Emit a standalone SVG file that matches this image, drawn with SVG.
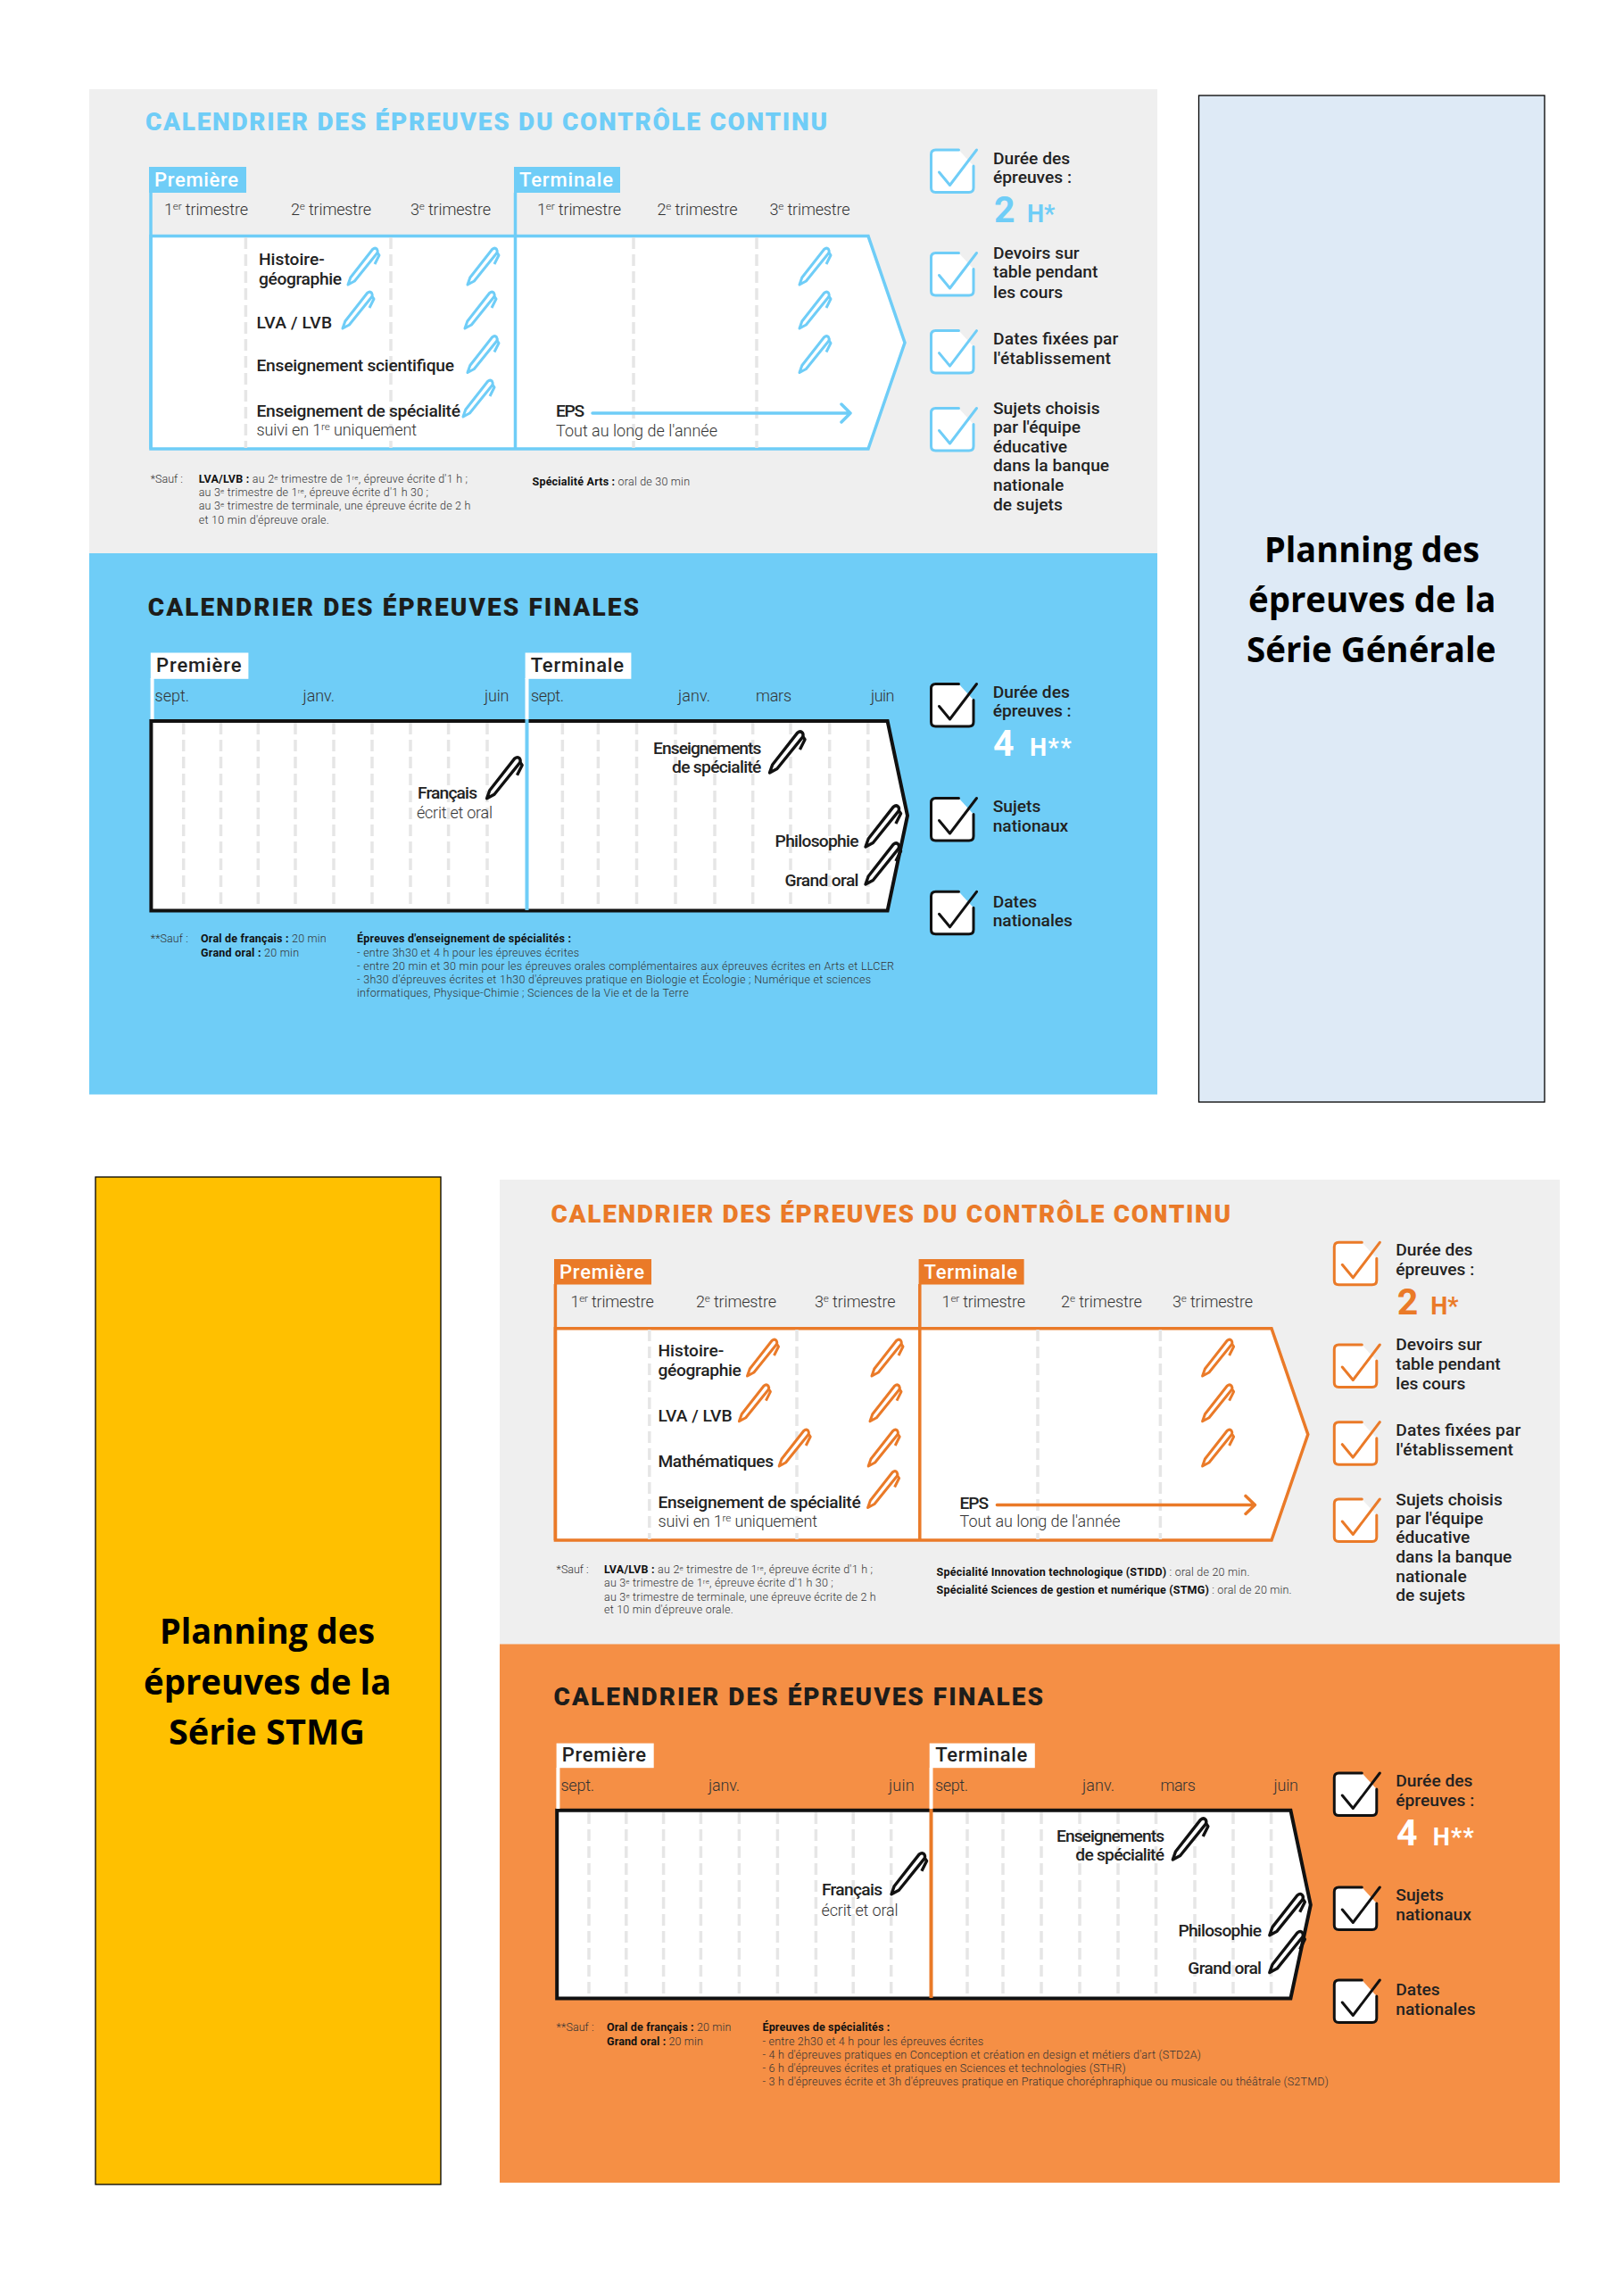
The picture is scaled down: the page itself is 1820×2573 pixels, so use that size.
<svg xmlns="http://www.w3.org/2000/svg" width="1820" height="2573" viewBox="0 0 1820 2573">
<style>
text{font-family:Roboto,"Liberation Sans",sans-serif;fill:#222}
.ttl{font-size:28px;font-weight:900}
.tag{font-size:22px;font-weight:500}
.m{font-size:19.2px;font-weight:500}
.l{font-size:18px;font-weight:300;fill:#333}
.f{font-size:12.5px;font-weight:300;fill:#333}
.bd{font-weight:700;fill:#111}
.big{font-size:41px;font-weight:700}
.hh{font-size:27px;font-weight:700}
.pl{font-family:"Open Sans","Noto Sans",sans-serif;font-size:40px;font-weight:700;fill:#000}
.s{font-size:65%}
.body{fill:#fff;stroke-width:3.5;stroke-linejoin:miter}
.dash{stroke:#e6e6e6;stroke-width:3.5;stroke-dasharray:13 6;fill:none}
.blue{stroke:#6fcdf7;fill:none}
.org{stroke:#ea7a28;fill:none}
.blk{stroke:#111;fill:none}
.box{fill:#fff;stroke-width:3;stroke-linecap:round}
.chk{fill:none;stroke-width:3;stroke-linecap:round;stroke-linejoin:round}
.penp{fill:#fff;stroke-width:3;stroke-linejoin:round}
.arr{fill:none;stroke-width:3.5;stroke-linecap:round;stroke-linejoin:round}
</style>
<defs>
<g id="cb">
<path class="box" d="M31,0H5Q0,0 0,5V42.500Q0,47.500 5,47.500H42.500Q47.500,47.500 47.500,42.500V18"/>
<path class="chk" d="M9,25L21,39.500L51,0"/>
</g>
<g id="pen">
<path class="penp" d="M0,0L2.800,-8L27.500,-39.500Q30.500,-42 32.500,-39.700Q33.800,-38 32.800,-35.500L7.400,-4Z"/>
<path class="penp" style="fill:none" d="M33,-36L35,-33L30,-23"/>
</g>
</defs>

<g id="panel-generale-continu"><rect x="100" y="100" width="1197" height="520" fill="#efefef"/></g>
<g id="panel-generale-finales"><rect x="100" y="620" width="1197" height="606.500" fill="#6fcdf7"/></g>

<g id="gen-cc-chart">
<path class="body blue" style="fill:#fff" d="M169,264.600H973L1014,384L973,503H169Z"/>
<path class="dash" d="M275.400,266V502M438,266V502M710,266V502M848,266V502"/>
<rect x="167" y="187" width="109" height="29" fill="#6fcdf7"/>
<rect x="576" y="187" width="119" height="29" fill="#6fcdf7"/>
<path class="blue" stroke-width="3.500" d="M169,216V503M577.500,216V503"/>
</g>
<g id="gen-cc-text">
<text class="ttl" x="163" y="146" style="fill:#6fcdf7" textLength="764">CALENDRIER DES ÉPREUVES DU CONTRÔLE CONTINU</text>
<text class="tag" x="173" y="209" style="fill:#fff" textLength="94">Première</text>
<text class="tag" x="582" y="209" style="fill:#fff" textLength="105">Terminale</text>
<text class="l" x="184" y="240.500" textLength="94">1<tspan class="s" dy="-6">er</tspan><tspan dy="6"> trimestre</tspan></text>
<text class="l" x="326" y="240.500" textLength="90">2<tspan class="s" dy="-6">e</tspan><tspan dy="6"> trimestre</tspan></text>
<text class="l" x="460" y="240.500" textLength="90">3<tspan class="s" dy="-6">e</tspan><tspan dy="6"> trimestre</tspan></text>
<text class="l" x="602" y="240.500" textLength="94">1<tspan class="s" dy="-6">er</tspan><tspan dy="6"> trimestre</tspan></text>
<text class="l" x="736.500" y="240.500" textLength="90">2<tspan class="s" dy="-6">e</tspan><tspan dy="6"> trimestre</tspan></text>
<text class="l" x="862.500" y="240.500" textLength="90">3<tspan class="s" dy="-6">e</tspan><tspan dy="6"> trimestre</tspan></text>
<text class="m" x="290" y="296.600">Histoire-</text>
<text class="m" x="290" y="319" textLength="93">géographie</text>
<text class="m" x="287.500" y="367.500" textLength="84.500">LVA / LVB</text>
<text class="m" x="287.500" y="416.400" textLength="221.500">Enseignement scientifique</text>
<text class="m" x="287.500" y="466.700" textLength="228.500">Enseignement de spécialité</text>
<text class="l" x="287.500" y="488" textLength="179.500">suivi en 1<tspan class="s" dy="-6">re</tspan><tspan dy="6"> uniquement</tspan></text>
<text class="m" x="623" y="467.400" textLength="32">EPS</text>
<text class="l" x="623" y="489" textLength="181">Tout au long de l'année</text>
<text class="f" x="168.800" y="541" textLength="36">*Sauf :</text>
<text class="f" x="222.700" y="541" textLength="301.300"><tspan class="bd">LVA/LVB :</tspan> au 2<tspan class="s" dy="-3">e</tspan><tspan dy="3"> trimestre de 1</tspan><tspan class="s" dy="-3">re</tspan><tspan dy="3">, épreuve écrite d'1 h ;</tspan></text>
<text class="f" x="222.700" y="556" textLength="257.300">au 3<tspan class="s" dy="-3">e</tspan><tspan dy="3"> trimestre de 1</tspan><tspan class="s" dy="-3">re</tspan><tspan dy="3">, épreuve écrite d'1 h 30 ;</tspan></text>
<text class="f" x="222.700" y="571.400" textLength="304.700">au 3<tspan class="s" dy="-3">e</tspan><tspan dy="3"> trimestre de terminale, une épreuve écrite de 2 h</tspan></text>
<text class="f" x="222.700" y="586.600" textLength="146">et 10 min d'épreuve orale.</text>
<text class="f" x="596.500" y="543.500" textLength="176.500"><tspan class="bd">Spécialité Arts :</tspan> oral de 30 min</text>
</g>
<g id="gen-cc-pens" class="blue">
<use href="#pen" x="390" y="319"/><use href="#pen" x="524" y="319"/>
<use href="#pen" x="384" y="368"/><use href="#pen" x="521" y="368"/>
<use href="#pen" x="524" y="417.500"/><use href="#pen" x="519" y="467"/>
<use href="#pen" x="896" y="319"/><use href="#pen" x="896" y="368"/><use href="#pen" x="896" y="417.500"/>
</g>
<g id="gen-cc-legend">
<g class="blue"><use href="#cb" x="1043.500" y="168"/><use href="#cb" x="1043.500" y="283.500"/><use href="#cb" x="1043.500" y="370.600"/><use href="#cb" x="1043.500" y="457.500"/></g>
<text class="m" x="1113" y="183.700">Durée des</text>
<text class="m" x="1113" y="204.700">épreuves :</text>
<text class="big" x="1114" y="249" style="fill:#6fcdf7">2</text>
<text class="hh" x="1151" y="249" style="fill:#6fcdf7">H*</text>
<text class="m" x="1113" y="289.700">Devoirs sur</text>
<text class="m" x="1113" y="311.400">table pendant</text>
<text class="m" x="1113" y="333.500">les cours</text>
<text class="m" x="1113" y="385.500" textLength="140.400">Dates fixées par</text>
<text class="m" x="1113" y="407.500" textLength="132">l'établissement</text>
<text class="m" x="1113" y="463.600">Sujets choisis</text>
<text class="m" x="1113" y="485.300">par l'équipe</text>
<text class="m" x="1113" y="506.700">éducative</text>
<text class="m" x="1113" y="528.400">dans la banque</text>
<text class="m" x="1113" y="550.400">nationale</text>
<text class="m" x="1113" y="572">de sujets</text>
</g>

<g id="gen-fin-chart">
<path class="body blk" style="stroke-width:4;fill:#fff" d="M169.400,808H994.600L1017,914L994.600,1020.500H169.400Z"/>
<path class="dash" d="M205.700,810V1019M247.500,810V1019M289.300,810V1019M331,810V1019M374,810V1019M417,810V1019M460,810V1019M502.600,810V1019M546,810V1019M630.400,810V1019M670.400,810V1019M713.500,810V1019M757,810V1019M801,810V1019M843.700,810V1019M886,810V1019M929.700,810V1019M972.800,810V1019"/>
<rect x="168.800" y="731.500" width="109.600" height="29.300" fill="#fff"/>
<rect x="588.600" y="731.500" width="118.800" height="29.300" fill="#fff"/>
<path stroke="#fff" stroke-width="4" d="M170.600,760V806M590.500,760V806"/>
<path stroke="#6fcdf7" stroke-width="4" d="M590.500,806V1020"/>
</g>
<g id="gen-fin-text">
<text class="ttl" x="165.700" y="690.400" style="fill:#1d1d1b" textLength="550.300">CALENDRIER DES ÉPREUVES FINALES</text>
<text class="tag" x="175" y="753" textLength="95.500">Première</text>
<text class="tag" x="594.700" y="753" textLength="104.300">Terminale</text>
<text class="l" x="173.600" y="786" textLength="38.400">sept.</text>
<text class="l" x="339.600" y="786" textLength="35.400">janv.</text>
<text class="l" x="543" y="786" textLength="27.500">juin</text>
<text class="l" x="595" y="786" textLength="37">sept.</text>
<text class="l" x="760" y="786" textLength="36">janv.</text>
<text class="l" x="847" y="786" textLength="40">mars</text>
<text class="l" x="976" y="786" textLength="26.500">juin</text>
<text class="m" x="468" y="895" textLength="67">Français</text>
<text class="l" x="467" y="917" textLength="85">écrit et oral</text>
<text class="m" x="732" y="844.600" textLength="121.400">Enseignements</text>
<text class="m" x="753" y="866" textLength="100.400">de spécialité</text>
<text class="m" x="868.600" y="949.400" textLength="93.900">Philosophie</text>
<text class="m" x="879.500" y="992.500" textLength="83">Grand oral</text>
<text class="f" x="168.800" y="1056" textLength="42">**Sauf :</text>
<text class="f" x="225" y="1056" textLength="140.700"><tspan class="bd">Oral de français :</tspan> 20 min</text>
<text class="f" x="225" y="1072" textLength="110"><tspan class="bd">Grand oral :</tspan> 20 min</text>
<text class="f bd" x="400" y="1056" textLength="240">Épreuves d'enseignement de spécialités :</text>
<text class="f" x="400" y="1072" textLength="249">- entre 3h30 et 4 h pour les épreuves écrites</text>
<text class="f" x="400" y="1087" textLength="602">- entre 20 min et 30 min pour les épreuves orales complémentaires aux épreuves écrites en Arts et LLCER</text>
<text class="f" x="400" y="1102.400" textLength="576">- 3h30 d'épreuves écrites et 1h30 d'épreuves pratique en Biologie et Écologie ; Numérique et sciences</text>
<text class="f" x="400" y="1117" textLength="371.600">informatiques, Physique-Chimie ; Sciences de la Vie et de la Terre</text>
</g>
<g id="gen-fin-pens" class="blk">
<use href="#pen" transform="translate(545.600 894.800) scale(1.13)"/>
<use href="#pen" transform="translate(862.500 866) scale(1.13)"/>
<use href="#pen" transform="translate(970 949) scale(1.13)"/>
<use href="#pen" transform="translate(970 991) scale(1.13)"/>
</g>
<g id="gen-fin-legend">
<g class="blk"><use href="#cb" x="1043.500" y="766.500"/><use href="#cb" x="1043.500" y="894.500"/><use href="#cb" x="1043.500" y="999.300"/></g>
<text class="m" x="1112.700" y="781.700">Durée des</text>
<text class="m" x="1112.700" y="803">épreuves :</text>
<text class="big" x="1113" y="847.300" style="fill:#fff">4</text>
<text class="hh" x="1154" y="847.300" style="fill:#fff" textLength="46.700">H**</text>
<text class="m" x="1112.700" y="910">Sujets</text>
<text class="m" x="1112.700" y="931.700">nationaux</text>
<text class="m" x="1112.700" y="1016.700">Dates</text>
<text class="m" x="1112.700" y="1038.300">nationales</text>
</g>

<g id="node-planning-generale">
<rect x="1343.500" y="107" width="387.500" height="1128" fill="#deeaf6" stroke="#000" stroke-width="1.300"/>
<text class="pl" x="1417" y="630" textLength="241" lengthAdjust="spacingAndGlyphs">Planning des</text>
<text class="pl" x="1399" y="686" textLength="277.500" lengthAdjust="spacingAndGlyphs">épreuves de la</text>
<text class="pl" x="1397" y="742" textLength="279.500" lengthAdjust="spacingAndGlyphs">Série Générale</text>
</g>

<g id="node-planning-stmg">
<rect x="107" y="1319" width="387" height="1129" fill="#ffc000" stroke="#000" stroke-width="1.300"/>
<text class="pl" x="179" y="1842" textLength="241" lengthAdjust="spacingAndGlyphs">Planning des</text>
<text class="pl" x="161" y="1898.500" textLength="277.500" lengthAdjust="spacingAndGlyphs">épreuves de la</text>
<text class="pl" x="189" y="1954.500" textLength="220" lengthAdjust="spacingAndGlyphs">Série STMG</text>
</g>

<g id="panel-stmg-continu"><rect x="560" y="1322" width="1188" height="521" fill="#efefef"/></g>
<g id="panel-stmg-finales"><rect x="560" y="1842.500" width="1188" height="603.500" fill="#f58f45"/></g>

<g id="stmg-cc-chart">
<path class="body org" style="fill:#fff" d="M622.400,1488.700H1425L1465.800,1607.500L1425,1726H622.400Z"/>
<path class="dash" d="M727.800,1490V1725M893,1490V1725M1163,1490V1725M1300.400,1490V1725"/>
<rect x="621" y="1411" width="109" height="28.500" fill="#ea7a28"/>
<rect x="1029.600" y="1411" width="118" height="28.500" fill="#ea7a28"/>
<path class="org" stroke-width="3.500" d="M622.400,1439V1726M1030.800,1439V1726"/>
</g>
<g id="stmg-cc-text">
<text class="ttl" x="617.600" y="1370" style="fill:#ea7a28" textLength="761.400">CALENDRIER DES ÉPREUVES DU CONTRÔLE CONTINU</text>
<text class="tag" x="627" y="1433" style="fill:#fff" textLength="95">Première</text>
<text class="tag" x="1035.600" y="1433" style="fill:#fff" textLength="104.400">Terminale</text>
<text class="l" x="639.400" y="1464.600" textLength="93.300">1<tspan class="s" dy="-6">er</tspan><tspan dy="6"> trimestre</tspan></text>
<text class="l" x="780" y="1464.600" textLength="90">2<tspan class="s" dy="-6">e</tspan><tspan dy="6"> trimestre</tspan></text>
<text class="l" x="913" y="1464.600" textLength="90.500">3<tspan class="s" dy="-6">e</tspan><tspan dy="6"> trimestre</tspan></text>
<text class="l" x="1055.600" y="1464.600" textLength="93.400">1<tspan class="s" dy="-6">er</tspan><tspan dy="6"> trimestre</tspan></text>
<text class="l" x="1189" y="1464.600" textLength="90.800">2<tspan class="s" dy="-6">e</tspan><tspan dy="6"> trimestre</tspan></text>
<text class="l" x="1314" y="1464.600" textLength="90">3<tspan class="s" dy="-6">e</tspan><tspan dy="6"> trimestre</tspan></text>
<text class="m" x="737.500" y="1520.400">Histoire-</text>
<text class="m" x="737.500" y="1542" textLength="93.300">géographie</text>
<text class="m" x="737.500" y="1592.700" textLength="83">LVA / LVB</text>
<text class="m" x="737.500" y="1643.700" textLength="129.500">Mathématiques</text>
<text class="m" x="737.500" y="1689.500" textLength="227.200">Enseignement de spécialité</text>
<text class="l" x="737.500" y="1710.800" textLength="178.500">suivi en 1<tspan class="s" dy="-6">re</tspan><tspan dy="6"> uniquement</tspan></text>
<text class="m" x="1075.600" y="1690.500" textLength="32.400">EPS</text>
<text class="l" x="1075.600" y="1711" textLength="179.900">Tout au long de l'année</text>
<text class="f" x="623.600" y="1763" textLength="36">*Sauf :</text>
<text class="f" x="677" y="1763" textLength="301"><tspan class="bd">LVA/LVB :</tspan> au 2<tspan class="s" dy="-3">e</tspan><tspan dy="3"> trimestre de 1</tspan><tspan class="s" dy="-3">re</tspan><tspan dy="3">, épreuve écrite d'1 h ;</tspan></text>
<text class="f" x="677" y="1778.300" textLength="256.800">au 3<tspan class="s" dy="-3">e</tspan><tspan dy="3"> trimestre de 1</tspan><tspan class="s" dy="-3">re</tspan><tspan dy="3">, épreuve écrite d'1 h 30 ;</tspan></text>
<text class="f" x="677" y="1793.500" textLength="304.700">au 3<tspan class="s" dy="-3">e</tspan><tspan dy="3"> trimestre de terminale, une épreuve écrite de 2 h</tspan></text>
<text class="f" x="677" y="1808.300" textLength="144.700">et 10 min d'épreuve orale.</text>
<text class="f" x="1049.600" y="1766" textLength="350.800"><tspan class="bd">Spécialité Innovation technologique (STIDD)</tspan> : oral de 20 min.</text>
<text class="f" x="1049.600" y="1785.600" textLength="398"><tspan class="bd">Spécialité Sciences de gestion et numérique (STMG)</tspan> : oral de 20 min.</text>
</g>
<g id="stmg-cc-pens" class="org">
<use href="#pen" x="837.500" y="1542"/><use href="#pen" x="977" y="1542"/>
<use href="#pen" x="828.400" y="1592.700"/><use href="#pen" x="975" y="1592.700"/>
<use href="#pen" x="873.200" y="1643"/><use href="#pen" x="973.200" y="1643"/>
<use href="#pen" x="972.600" y="1689.500"/>
<use href="#pen" x="1347.600" y="1542"/><use href="#pen" x="1347.600" y="1592.700"/><use href="#pen" x="1347.600" y="1643"/>
</g>
<g id="stmg-cc-legend">
<g class="org"><use href="#cb" x="1495.300" y="1392.300"/><use href="#cb" x="1495.300" y="1507"/><use href="#cb" x="1495.300" y="1593.700"/><use href="#cb" x="1495.300" y="1680"/></g>
<text class="m" x="1564.300" y="1407.300">Durée des</text>
<text class="m" x="1564.300" y="1428.700">épreuves :</text>
<text class="big" x="1565.700" y="1472.700" style="fill:#ea7a28">2</text>
<text class="hh" x="1603.300" y="1472.700" style="fill:#ea7a28">H*</text>
<text class="m" x="1564.300" y="1513.300">Devoirs sur</text>
<text class="m" x="1564.300" y="1535">table pendant</text>
<text class="m" x="1564.300" y="1556.700">les cours</text>
<text class="m" x="1564.300" y="1609" textLength="140">Dates fixées par</text>
<text class="m" x="1564.300" y="1630.700" textLength="131.700">l'établissement</text>
<text class="m" x="1564.300" y="1686.700">Sujets choisis</text>
<text class="m" x="1564.300" y="1708.300">par l'équipe</text>
<text class="m" x="1564.300" y="1729.300">éducative</text>
<text class="m" x="1564.300" y="1751">dans la banque</text>
<text class="m" x="1564.300" y="1772.700">nationale</text>
<text class="m" x="1564.300" y="1794.300">de sujets</text>
</g>

<g id="stmg-fin-chart">
<path class="body blk" style="stroke-width:4;fill:#fff" d="M624.200,2028.700H1446.400L1468.800,2134.700L1446.400,2239.500H624.200Z"/>
<path class="dash" d="M660,2031V2238M701.800,2031V2238M743.600,2031V2238M785.400,2031V2238M828.400,2031V2238M871.400,2031V2238M914.400,2031V2238M956.200,2031V2238M998.700,2031V2238M1084,2031V2238M1124,2031V2238M1167,2031V2238M1210,2031V2238M1253,2031V2238M1295.500,2031V2238M1339,2031V2238M1382,2031V2238M1424.600,2031V2238"/>
<rect x="623.600" y="1953.600" width="109.100" height="27.600" fill="#fff"/>
<rect x="1041.700" y="1953.600" width="118.100" height="27.600" fill="#fff"/>
<path stroke="#fff" stroke-width="4" d="M625.400,1981V2027M1043.500,1981V2027"/>
<path stroke="#ea7a28" stroke-width="4" d="M1043.500,2027V2239"/>
</g>
<g id="stmg-fin-text">
<text class="ttl" x="620.600" y="1911.300" style="fill:#1d1d1b" textLength="548.400">CALENDRIER DES ÉPREUVES FINALES</text>
<text class="tag" x="629.700" y="1973.800" textLength="94.300">Première</text>
<text class="tag" x="1048.300" y="1973.800" textLength="103">Terminale</text>
<text class="l" x="628.500" y="2007.400" textLength="37.500">sept.</text>
<text class="l" x="794" y="2007.400" textLength="35">janv.</text>
<text class="l" x="996" y="2007.400" textLength="28.700">juin</text>
<text class="l" x="1048" y="2007.400" textLength="37">sept.</text>
<text class="l" x="1213" y="2007.400" textLength="36">janv.</text>
<text class="l" x="1300.400" y="2007.400" textLength="39.400">mars</text>
<text class="l" x="1427.600" y="2007.400" textLength="27.400">juin</text>
<text class="m" x="921" y="2124" textLength="68">Français</text>
<text class="l" x="920.500" y="2146.600" textLength="86">écrit et oral</text>
<text class="m" x="1184" y="2063.500" textLength="121">Enseignements</text>
<text class="m" x="1205.300" y="2084.500" textLength="99.700">de spécialité</text>
<text class="m" x="1320.400" y="2169.500" textLength="93.600">Philosophie</text>
<text class="m" x="1331.300" y="2211.800" textLength="82.700">Grand oral</text>
<text class="f" x="623.600" y="2276" textLength="42">**Sauf :</text>
<text class="f" x="680" y="2276" textLength="139.300"><tspan class="bd">Oral de français :</tspan> 20 min</text>
<text class="f" x="680" y="2291.700" textLength="107.800"><tspan class="bd">Grand oral :</tspan> 20 min</text>
<text class="f bd" x="854.500" y="2276" textLength="142.900">Épreuves de spécialités :</text>
<text class="f" x="854.500" y="2291.700" textLength="247.500">- entre 2h30 et 4 h pour les épreuves écrites</text>
<text class="f" x="854.500" y="2306.700" textLength="491.300">- 4 h d'épreuves pratiques en Conception et création en design et métiers d'art (STD2A)</text>
<text class="f" x="854.500" y="2322" textLength="407.100">- 6 h d'épreuves écrites et pratiques en Sciences et technologies (STHR)</text>
<text class="f" x="854.500" y="2337" textLength="634.300">- 3 h d'épreuves écrite et 3h d'épreuves pratique en Pratique choréphraphique ou musicale ou théâtrale (S2TMD)</text>
</g>
<g id="stmg-fin-pens" class="blk">
<use href="#pen" transform="translate(999 2122.800) scale(1.13)"/>
<use href="#pen" transform="translate(1314.300 2084) scale(1.13)"/>
<use href="#pen" transform="translate(1422.800 2168.700) scale(1.13)"/>
<use href="#pen" transform="translate(1422.800 2210.600) scale(1.13)"/>
</g>
<g id="stmg-fin-legend">
<g class="blk"><use href="#cb" x="1495.300" y="1987"/><use href="#cb" x="1495.300" y="2115"/><use href="#cb" x="1495.300" y="2219"/></g>
<text class="m" x="1564.300" y="2002.300">Durée des</text>
<text class="m" x="1564.300" y="2024">épreuves :</text>
<text class="big" x="1565" y="2068.300" style="fill:#fff">4</text>
<text class="hh" x="1605.700" y="2068.300" style="fill:#fff" textLength="46">H**</text>
<text class="m" x="1564.300" y="2130">Sujets</text>
<text class="m" x="1564.300" y="2151.700">nationaux</text>
<text class="m" x="1564.300" y="2236">Dates</text>
<text class="m" x="1564.300" y="2257.700">nationales</text>
</g>

<g id="connectors">
<path class="arr" stroke="#6fcdf7" d="M664,463H953M943,453L953,463L943,473"/>
<path class="arr" stroke="#ea7a28" d="M1117.400,1686.400H1406.400M1396,1676.400L1406.400,1686.400L1396,1696.400"/>
</g>
</svg>
